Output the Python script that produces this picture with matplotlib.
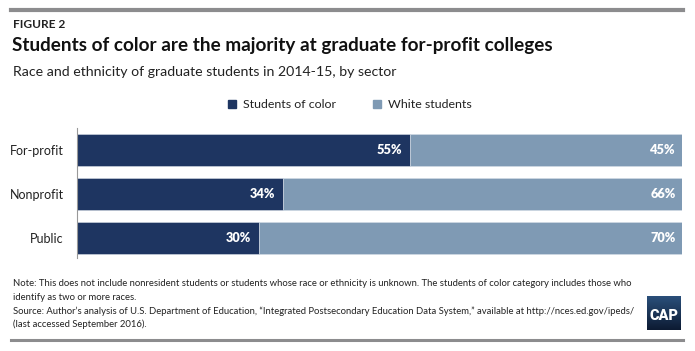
import numpy as np
import matplotlib
matplotlib.use("Agg")
import matplotlib.pyplot as plt
from matplotlib.patches import Rectangle
from matplotlib.lines import Line2D

plt.rcParams['font.family'] = ['Lato', 'DejaVu Sans']

# data
sectors = ['For-profit', 'Nonprofit', 'Public']
color_students = [55, 34, 30]
white_students = [45, 66, 70]
series_names = ['Students of color', 'White students']

navy = '#1e3561'
steel = '#7f9ab4'
rule_gray = '#8c8c8e'

W, H = 695, 351
fig = plt.figure(figsize=(W / 100, H / 100), dpi=100)

def fx(px):
    return px / W

def fy(py):
    return 1 - py / H

# top and bottom rules
fig.add_artist(Line2D([fx(11), fx(683)], [fy(10), fy(10)], color=rule_gray, lw=3))
fig.add_artist(Line2D([fx(11), fx(683)], [fy(340), fy(340)], color=rule_gray, lw=2.2))

fig.text(fx(13), fy(24), 'FIGURE 2', fontsize=8.6, fontweight='bold', color='#222222', va='center')
fig.text(fx(12), fy(46), 'Students of color are the majority at graduate for-profit colleges',
         fontsize=13.6, fontweight='bold', color='#111111', va='center')
fig.text(fx(13), fy(72), 'Race and ethnicity of graduate students in 2014-15, by sector',
         fontsize=10.2, color='#222222', va='center')

# legend
fig.add_artist(Rectangle((fx(228), fy(108)), fx(8), 8 / H, color=navy, transform=fig.transFigure))
fig.text(fx(243), fy(104), series_names[0], fontsize=8.9, color='#222222', va='center')
fig.add_artist(Rectangle((fx(373), fy(108)), fx(8), 8 / H, color=steel, transform=fig.transFigure))
fig.text(fx(388), fy(104), series_names[1], fontsize=8.9, color='#222222', va='center')

# bars
ax = fig.add_axes([fx(77), fy(258), fx(682) - fx(77), fy(128) - fy(258)])
y = np.arange(len(sectors))
ax.barh(y, color_students, height=32 / 44, color=navy, edgecolor='#d5dde6', linewidth=0.4)
ax.barh(y, white_students, left=color_students, height=32 / 44, color=steel,
        edgecolor='#d5dde6', linewidth=0.4)
for i in range(len(sectors)):
    ax.text(color_students[i] - 1.2, y[i], f'{color_students[i]}%', color='white',
            fontsize=9.2, fontweight='heavy', ha='right', va='center')
    ax.text(100 - 1.0, y[i], f'{white_students[i]}%', color='white',
            fontsize=9.2, fontweight='heavy', ha='right', va='center')

ax.set_xlim(0, 100)
ax.set_ylim(2 + 20 / 44, -0.5)
ax.set_yticks(y)
ax.set_yticklabels(sectors, fontsize=9, color='#222222')
ax.tick_params(axis='y', length=0, pad=9.4)
ax.set_xticks([])
for s in ['top', 'right', 'bottom']:
    ax.spines[s].set_visible(False)
ax.spines['left'].set_color('#999999')
ax.spines['left'].set_linewidth(0.8)

# notes
note_kw = dict(fontsize=6.85, color='#222222', va='center')
fig.text(fx(13), fy(284), 'Note: This does not include nonresident students or students whose race or ethnicity is unknown. '
         'The students of color category includes those who', **note_kw)
fig.text(fx(13), fy(297), 'identify as two or more races.', **note_kw)
fig.text(fx(13), fy(311), 'Source: Author\u2019s analysis of U.S. Department of Education, \u201cIntegrated Postsecondary '
         'Education Data System,\u201d available at http://nces.ed.gov/ipeds/', **note_kw)
fig.text(fx(13), fy(324), '(last accessed September 2016).', **note_kw)

# CAP logo
lax = fig.add_axes([fx(647), fy(330), fx(34), 34 / H])
grad = np.linspace(0, 1, 50)[:, None]
cmap = matplotlib.colors.LinearSegmentedColormap.from_list('', ['#2a4f7a', '#0d1b33'])
lax.imshow(grad, cmap=cmap, aspect='auto', extent=[0, 1, 0, 1], origin='upper')
lax.text(0.5, 0.42, 'CAP', color='white', fontsize=10.5, fontweight='heavy',
         ha='center', va='center', family=['Roboto', 'DejaVu Sans'])
lax.set_axis_off()

fig.savefig('out.png', dpi=100)
